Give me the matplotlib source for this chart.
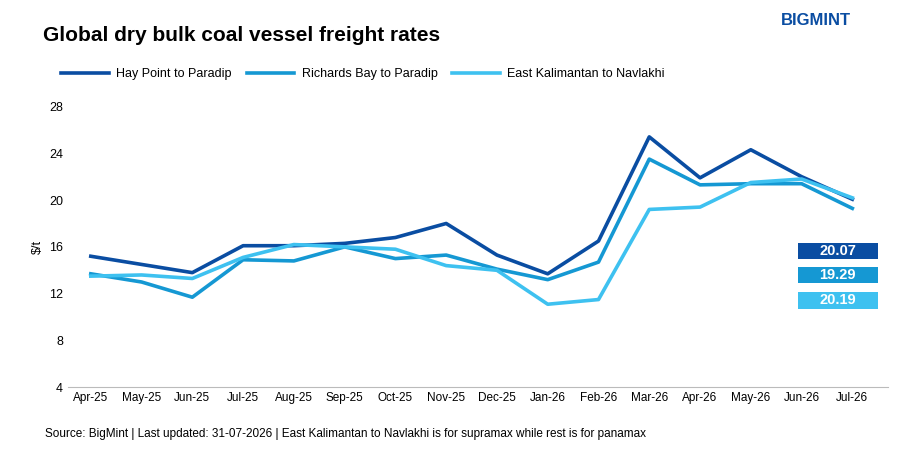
import matplotlib
matplotlib.use("Agg")
import matplotlib.pyplot as plt
from matplotlib.patches import Rectangle

months = ["Apr-25", "May-25", "Jun-25", "Jul-25", "Aug-25", "Sep-25", "Oct-25", "Nov-25",
          "Dec-25", "Jan-26", "Feb-26", "Mar-26", "Apr-26", "May-26", "Jun-26", "Jul-26"]
hay_point = [15.2, 14.5, 13.8, 16.1, 16.1, 16.3, 16.8, 18.0, 15.3, 13.7, 16.5, 25.4, 21.9, 24.3, 22.0, 20.07]
richards_bay = [13.7, 13.0, 11.7, 14.9, 14.8, 16.0, 15.0, 15.3, 14.1, 13.2, 14.7, 23.5, 21.3, 21.4, 21.4, 19.29]
east_kalimantan = [13.5, 13.6, 13.3, 15.1, 16.2, 16.0, 15.8, 14.4, 14.0, 11.1, 11.5, 19.2, 19.4, 21.5, 21.8, 20.19]

names = ["Hay Point to Paradip", "Richards Bay to Paradip", "East Kalimantan to Navlakhi"]
colors = ["#0A4DA2", "#1598D3", "#3EC1F0"]
series = [hay_point, richards_bay, east_kalimantan]

plt.rcParams["font.family"] = ["Liberation Sans", "DejaVu Sans"]
fig = plt.figure(figsize=(9.06, 4.53), dpi=100)
ax = fig.add_axes([0.075, 0.145, 0.905, 0.62])

x = range(len(months))
for vals, c, n in zip(series, colors, names):
    ax.plot(x, vals, color=c, lw=2.6, label=n)

ax.set_ylim(4, 28)
ax.set_yticks(range(4, 29, 4))
ax.set_xticks(list(x))
ax.set_xticklabels(months, fontsize=8.5)
ax.tick_params(axis="y", labelsize=9, length=0)
ax.tick_params(axis="x", length=0)
ax.set_xlim(-0.45, len(months) - 0.3)
ax.set_ylabel("$/t", fontsize=9)
for s in ["top", "right", "left"]:
    ax.spines[s].set_visible(False)
ax.spines["bottom"].set_color("#bbbbbb")

# end-value boxes
box_y = [15.65, 13.6, 11.45]
for v, c, by in zip([s[-1] for s in series], colors, box_y):
    ax.add_patch(Rectangle((13.93, by - 0.72), 1.57, 1.44, fc=c, ec="none", zorder=3))
    ax.text(14.715, by, f"{v:.2f}", color="white", fontsize=10.5, fontweight="bold",
            ha="center", va="center", zorder=4)

fig.legend(loc="upper left", bbox_to_anchor=(0.055, 0.875), ncol=3, frameon=False,
           fontsize=9, handlelength=3.8, columnspacing=1.2, handletextpad=0.6)
fig.text(0.047, 0.91, "Global dry bulk coal vessel freight rates", fontsize=15, fontweight="bold")
fig.text(0.862, 0.945, "BIGMINT", fontsize=12, fontweight="bold", color="#0A4DA2")
fig.text(0.05, 0.035, "Source: BigMint | Last updated: 31-07-2026 | East Kalimantan to Navlakhi is for supramax while rest is for panamax",
         fontsize=8.5)

fig.savefig("out.png", dpi=100)
